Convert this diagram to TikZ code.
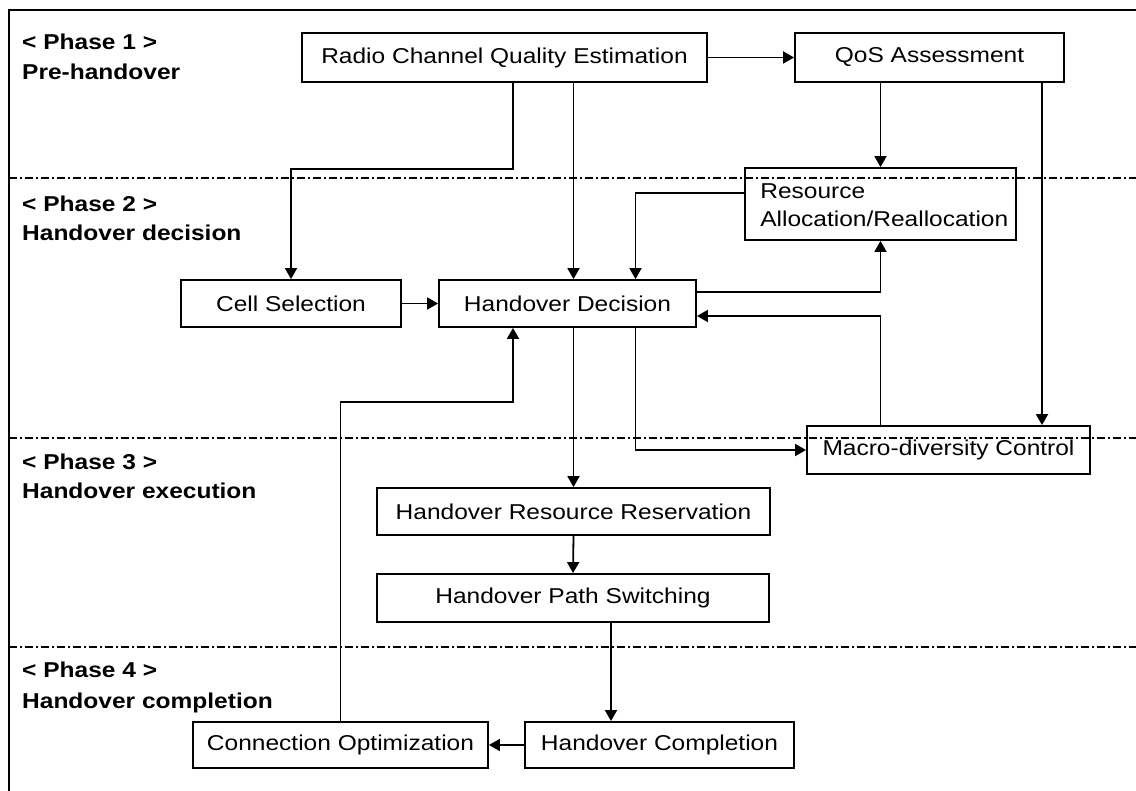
\documentclass[tikz,border=0pt]{standalone}
\usepackage{fontspec}
\setmainfont{Liberation Sans}[FakeStretch=1.14]
\usetikzlibrary{arrows.meta}
\tikzset{
  hbox/.style={draw, line width=1.8pt, inner sep=0pt, font=\fontsize{21.5}{25}\selectfont},
  arr/.style={line width=1.8pt, -{Triangle[length=11pt,width=12pt]}},
  phaseline/.style={line width=1.3pt, dash pattern=on 8pt off 3pt on 2pt off 3pt},
  phasetxt/.style={anchor=base west, inner sep=0pt, font=\fontsize{21.5}{25}\selectfont\bfseries},
}
\begin{document}
\begin{tikzpicture}[x=1pt,y=-1pt]
\useasboundingbox (0,0) rectangle (1136,791);
% frame
\coordinate (ftl) at (9,10);
\coordinate (ftr) at (1136,10);
\coordinate (fbl) at (9,791);
\draw[line width=1.8pt] (ftr) -- (ftl) -- (fbl);
% phase separators
\coordinate (s1a) at (9,178); \coordinate (s1b) at (1136,178);
\coordinate (s2a) at (9,438); \coordinate (s2b) at (1136,438);
\coordinate (s3a) at (9,647); \coordinate (s3b) at (1136,647);
\draw[phaseline] (s1a) -- (s1b);
\draw[phaseline] (s2a) -- (s2b);
\draw[phaseline] (s3a) -- (s3b);
% phase labels
\node[phasetxt] (p1a) at (22,50) {< Phase 1 >};
\node[phasetxt] (p1b) at (22,80) {Pre-handover};
\node[phasetxt] (p2a) at (22,212) {< Phase 2 >};
\node[phasetxt] (p2b) at (22,241) {Handover decision};
\node[phasetxt] (p3a) at (22,470) {< Phase 3 >};
\node[phasetxt] (p3b) at (22,499) {Handover execution};
\node[phasetxt] (p4a) at (22,677) {< Phase 4 >};
\node[phasetxt] (p4b) at (22,708) {Handover completion};
% boxes
\node[hbox, minimum width=405pt, minimum height=49pt] (rcqe) at (504.5,57.5) {Radio Channel Quality Estimation};
\node[hbox, minimum width=269pt, minimum height=49pt] (qos) at (929.5,57.5) {QoS Assessment};
\node[hbox, minimum width=271pt, minimum height=72pt] (res) at (880.5,204) {};
\node[anchor=west, align=left, inner sep=0pt, font=\fontsize{21.5}{28}\selectfont] (restxt) at ([xshift=16pt,yshift=-1pt]res.west) {Resource\\Allocation/Reallocation};
\node[hbox, minimum width=220pt, minimum height=47pt] (cell) at (291,303.5) {Cell Selection};
\node[hbox, minimum width=257pt, minimum height=47pt] (hd) at (567.5,303.5) {Handover Decision};
\node[hbox, minimum width=283pt, minimum height=48pt] (mdc) at (948.5,450) {Macro-diversity Control};
\node[hbox, minimum width=393pt, minimum height=47pt] (hrr) at (573.5,511.5) {Handover Resource Reservation};
\node[hbox, minimum width=392pt, minimum height=48pt] (hps) at (573,598) {Handover Path Switching};
\node[hbox, minimum width=269pt, minimum height=46pt] (hc) at (659.5,745) {Handover Completion};
\node[hbox, minimum width=295pt, minimum height=46pt] (co) at (340.5,745) {Connection Optimization};
% helper coordinates
\coordinate (b1) at ([xshift=8.5pt]rcqe.south);
\coordinate (xe) at (1042,0);
\coordinate (f1) at ([yshift=11pt]res.west);
\coordinate (f2) at ([xshift=68pt]hd.north);
\coordinate (g1) at ([yshift=11.5pt]hd.east);
\coordinate (h1) at ([yshift=-12.5pt]hd.east);
\coordinate (j1) at ([xshift=68pt]hd.south);
\coordinate (l1) at ([xshift=38pt]hps.south);
\coordinate (n1) at (513,402);
% connectors
\draw[arr] (rcqe.east) -- (qos.west);
\draw[arr] (b1) -- ++(0,86) -| (cell.north);
\draw[arr] (rcqe.south -| hrr.north) -- (hd.north -| hrr.north);
\draw[arr] (qos.south -| res.north) -- (res.north);
\draw[arr] (qos.south -| xe) -- (mdc.north -| xe);
\draw[arr] (f1) -| (f2);
\draw[arr] (g1) -| (res.south);
\draw[arr] (mdc.north -| res.south) |- (h1);
\draw[arr] (cell.east) -- (hd.west);
\draw[arr] (hd.south -| hrr.north) -- (hrr.north);
\draw[arr] (j1) |- (mdc.west);
\draw[arr] (hrr.south) -- (hps.north);
\draw[arr] (l1) -- (l1 |- hc.north);
\draw[arr] (hc.west) -- (co.east);
\draw[arr] (co.north) |- (n1) -- (n1 |- hd.south);
\end{tikzpicture}
\end{document}
